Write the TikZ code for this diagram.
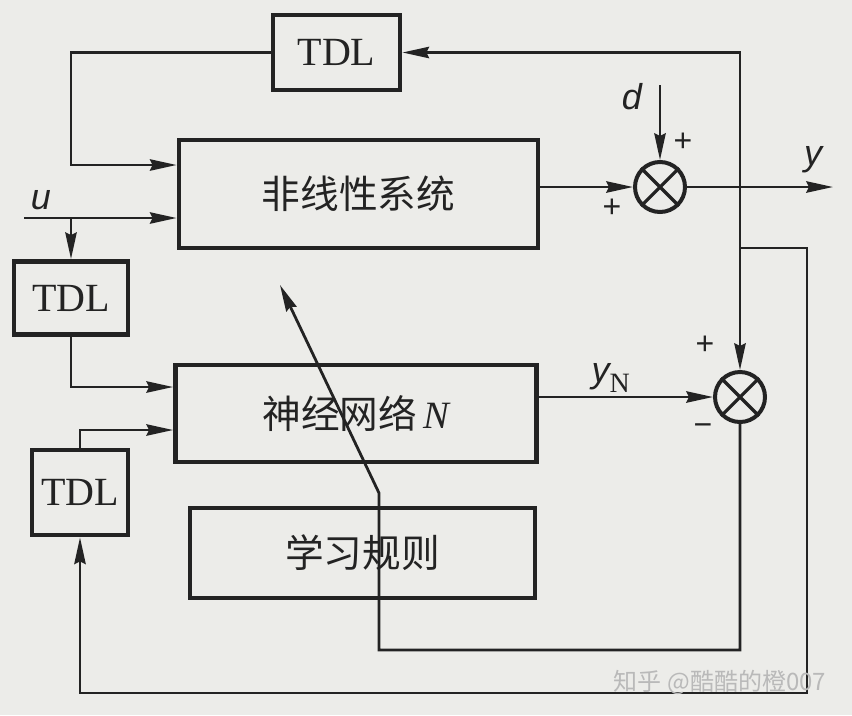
\documentclass[tikz,border=0pt]{standalone}
\usepackage{fontspec}
\setmainfont{Liberation Serif}
\newfontfamily\cjk{Noto Sans CJK SC}
\newfontfamily\lsans{Liberation Sans}
\usetikzlibrary{arrows.meta}
\definecolor{paper}{RGB}{236,236,233}
\definecolor{ink}{RGB}{35,35,35}
\begin{document}
\begin{tikzpicture}[x=0.75pt,y=-0.75pt,
  box/.style={draw=ink,line width=3.6pt,rectangle,inner sep=0pt},
  sumnode/.style={draw=ink,line width=3pt,circle,minimum size=37.5pt,inner sep=0pt},
  wire/.style={draw=ink,line width=2.1pt},
  arr/.style={wire,-{Stealth[length=20pt,width=8.5pt,inset=2pt]}},
  tdltext/.style={font=\fontsize{30}{30}\selectfont,text=ink},
  cntext/.style={font=\cjk\fontsize{29}{29}\selectfont,text=ink},
  sign/.style={font=\lsans\fontsize{24}{24}\selectfont,text=ink,inner sep=0pt},
  var/.style={font=\lsans\itshape\fontsize{27}{27}\selectfont,text=ink,inner sep=0pt}]
\fill[paper] (0,0) rectangle (852,715);
\useasboundingbox (0,0) rectangle (852,715);

% blocks
\node[box,minimum width=95.25pt,minimum height=56.25pt,tdltext] (tdl1) at (336.5,52.5) {TDL};
\node[box,minimum width=269.25pt,minimum height=81pt,cntext] (sys) at (358.5,194) {非线性系统};
\node[box,minimum width=85.5pt,minimum height=54.75pt,tdltext] (tdl2) at (71,298) {TDL};
\node[box,minimum width=270.75pt,minimum height=72.75pt,cntext] (nn) at (356,413.5) {神经网络\,{\rmfamily\itshape N}};
\node[box,minimum width=72pt,minimum height=63.75pt,tdltext] (tdl3) at (80,492.5) {TDL};
\node[box,minimum width=258.75pt,minimum height=67.5pt,cntext] (rule) at (362.5,553) {学习规则};

% summing junctions
\node[sumnode] (s1) at (660,187) {};
\node[sumnode] (s2) at (740,397) {};
\draw[ink,line width=2.4pt] (s1.north east) -- (s1.south west) (s1.north west) -- (s1.south east);
\draw[ink,line width=2.4pt] (s2.north east) -- (s2.south west) (s2.north west) -- (s2.south east);

% coordinates
\coordinate (uin) at (24,218);
\coordinate (ub) at (71,218);
\coordinate (tl) at (71,52.5);
\coordinate (tl2) at (71,165);
\coordinate (c165) at (0,165);
\coordinate (c387) at (0,387);
\coordinate (c430) at (0,430);
\coordinate (dtop) at (660,85);
\coordinate (jy) at (740,187);
\coordinate (yout) at (833,187);
\coordinate (jr) at (740,248);
\coordinate (rr) at (807,248);
\coordinate (rb) at (807,693);
\coordinate (lb) at (379,650);
\coordinate (lk) at (379,493);
\coordinate (lt) at (280,285);

% connectors
\draw[arr] (tdl1.west) -- (tl) -- (tl2) -- (sys.west |- c165);
\draw[arr] (uin) -- (sys.west |- uin);
\draw[arr] (ub) -- (tdl2.north);
\draw[arr] (tdl2.south) |- (nn.west |- c387);
\draw[arr] (tdl3.north) |- (nn.west |- c430);
\draw[arr] (sys.east |- s1) -- (s1.west);
\draw[arr] (dtop) -- (s1.north);
\draw[arr] (s1.east) -- (yout);
\draw[arr] (jy) |- (tdl1.east);
\draw[arr] (jy) -- (s2.north);
\draw[arr] (nn.east |- s2) -- (s2.west);
\draw[arr] (jr) -- (rr) -- (rb) -- (tdl3.south |- rb) -- (tdl3.south);
\draw[arr] (s2.south) |- (lb) -- (lk) -- (lt);

% labels
\node[var] (lu) at (41,200) {u};
\node[var] (ld) at (632,97) {d};
\node[var] (ly) at (813,160) {y};
\node[var,anchor=base east] (lyn) at (630,382) {y\raisebox{-0.3em}{\rmfamily\upshape\fontsize{21}{21}\selectfont N}};
\node[sign] (p1) at (683,142) {+};
\node[sign] (p2) at (612,208) {+};
\node[sign] (p3) at (705,345) {+};
\node[sign] (m1) at (703,430) {−};

% watermark
\node[font=\cjk\fontsize{18}{18}\selectfont,text=gray!55] (wm) at (720,682) {知乎 @酷酷的橙007};
\end{tikzpicture}
\end{document}
